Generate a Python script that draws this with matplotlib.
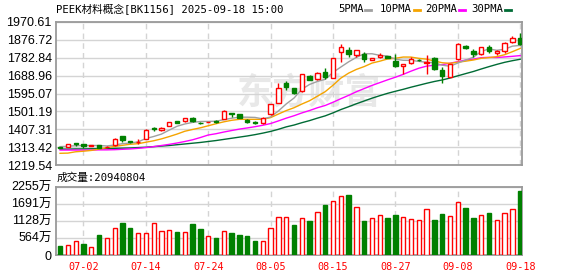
import numpy as np
import pandas as pd
import matplotlib
matplotlib.use("Agg")
import matplotlib.pyplot as plt
from matplotlib.lines import Line2D

# one bar per trading day, 2025-06-27 .. 2025-09-18
dates = pd.bdate_range("2025-06-27", "2025-09-18")

opens = [1314, 1316, 1334, 1328, 1319, 1324, 1315, 1322, 1370, 1345,
         1339, 1357, 1412, 1404, 1425, 1450, 1450, 1468, 1441, 1444,
         1450, 1461, 1491, 1487, 1455, 1444, 1438, 1486, 1545, 1652,
         1622, 1608, 1688, 1670, 1709, 1676, 1812, 1822, 1798, 1800,
         1772, 1786, 1792, 1767, 1739, 1755, 1772, 1755, 1780, 1718,
         1684, 1775, 1845, 1817, 1802, 1840, 1810, 1820, 1867, 1885]
highs = [1316, 1329, 1334, 1329, 1324, 1327, 1318, 1363, 1371, 1348,
         1355, 1407, 1421, 1421, 1447, 1452, 1466, 1470, 1444, 1447,
         1454, 1507, 1492, 1488, 1460, 1450, 1470, 1542, 1648, 1660,
         1625, 1700, 1690, 1706, 1727, 1782, 1855, 1837, 1825, 1815,
         1783, 1810, 1794, 1802, 1752, 1785, 1775, 1797, 1785, 1736,
         1752, 1858, 1851, 1829, 1838, 1848, 1822, 1863, 1897, 1911]
lows = [1309, 1314, 1321, 1311, 1317, 1309, 1313, 1318, 1341, 1336,
        1330, 1354, 1398, 1399, 1422, 1439, 1448, 1448, 1434, 1443,
        1442, 1459, 1473, 1464, 1441, 1435, 1436, 1484, 1543, 1615,
        1594, 1601, 1664, 1667, 1671, 1674, 1760, 1788, 1789, 1762,
        1770, 1783, 1780, 1736, 1697, 1750, 1766, 1700, 1720, 1652,
        1680, 1770, 1827, 1788, 1795, 1808, 1795, 1810, 1859, 1850]
closes = [1311, 1328, 1332, 1317, 1322, 1311, 1316, 1356, 1353, 1339,
          1341, 1404, 1409, 1416, 1444, 1442, 1464, 1451, 1439, 1446,
          1448, 1504, 1489, 1467, 1445, 1442, 1465, 1540, 1626, 1628,
          1597, 1697, 1666, 1704, 1683, 1780, 1837, 1803, 1822, 1777,
          1780, 1796, 1783, 1740, 1748, 1778, 1770, 1760, 1726, 1685,
          1750, 1855, 1836, 1802, 1837, 1816, 1819, 1862, 1885, 1856]

ma5 = [1316, 1318, 1321, 1322, 1322, 1322, 1319.6, 1324.4, 1331.6, 1335,
       1341, 1358.6, 1369.2, 1381.8, 1402.8, 1423, 1435, 1443.4, 1448, 1448.4,
       1449.6, 1457.6, 1465.2, 1470.8, 1470.6, 1469.4, 1461.6, 1471.8, 1503.6, 1540.2,
       1571.2, 1617.6, 1642.8, 1658.4, 1669.4, 1706, 1734, 1761.4, 1785, 1803.8,
       1803.8, 1795.6, 1791.6, 1775.2, 1769.4, 1769, 1763.8, 1759.2, 1756.4, 1743.8,
       1738.2, 1755.2, 1770.4, 1785.6, 1816, 1829.2, 1822, 1827.2, 1843.8, 1847.6]
ma10 = [1281, 1282, 1289, 1292, 1296, 1303, 1311, 1317, 1323, 1328.5,
        1331.5, 1339.1, 1346.8, 1356.7, 1368.9, 1382, 1396.8, 1406.3, 1414.9, 1425.6,
        1436.3, 1446.3, 1454.3, 1459.4, 1459.5, 1459.5, 1459.6, 1468.5, 1487.2, 1505.4,
        1520.3, 1539.6, 1557.3, 1581, 1604.8, 1638.6, 1675.8, 1702.1, 1721.7, 1736.6,
        1754.9, 1764.8, 1776.5, 1780.1, 1786.6, 1786.4, 1779.7, 1775.4, 1765.8, 1756.6,
        1753.6, 1759.5, 1764.8, 1771, 1779.9, 1783.7, 1788.6, 1798.8, 1814.7, 1831.8]
ma20 = [1298, 1298, 1298, 1298, 1298, 1299, 1299, 1300, 1302, 1304,
        1307, 1311, 1316, 1322, 1328, 1335, 1343, 1352, 1364, 1377.1,
        1383.9, 1392.7, 1400.6, 1408.1, 1414.2, 1420.8, 1428.2, 1437.4, 1451.1, 1465.5,
        1478.3, 1493, 1505.8, 1520.2, 1532.2, 1549.1, 1567.7, 1585.3, 1604.5, 1621,
        1637.6, 1652.2, 1666.9, 1680.6, 1695.7, 1712.5, 1727.8, 1738.8, 1743.8, 1746.6,
        1754.3, 1762.2, 1770.7, 1775.6, 1783.3, 1785.1, 1784.2, 1787.1, 1790.3, 1794.2]
ma30 = [1303, 1303, 1304, 1304, 1305, 1305, 1306, 1307, 1308, 1309,
        1311, 1313, 1316, 1319, 1322, 1326, 1330, 1334, 1338, 1343,
        1348, 1354, 1360, 1366, 1372, 1379, 1387, 1396, 1407, 1419.8,
        1429.4, 1441.7, 1452.8, 1465.7, 1477.7, 1493.4, 1510.7, 1525.6, 1541.3, 1555.9,
        1570.5, 1583.6, 1596, 1606.8, 1617, 1628.2, 1638.4, 1648.7, 1658.2, 1666.2,
        1676.3, 1688, 1699.5, 1710.7, 1723.8, 1736.2, 1748, 1758.8, 1767.4, 1775]

# volume in 万 (10k), colour as shown in the volume panel
volumes = [286, 340, 472, 351, 274, 647, 570, 899, 1042, 877,
           735, 735, 1064, 801, 833, 757, 768, 1009, 844, 636,
           548, 801, 713, 647, 614, 450, 472, 899, 1261, 1261,
           976, 1228, 1108, 1426, 1634, 1788, 1953, 1964, 1590, 1108,
           1228, 1327, 1207, 1306, 1261, 1195, 1162, 1524, 1141, 1338,
           1294, 1755, 1536, 1207, 1327, 1371, 1162, 1393, 1524, 2094]
vol_up = [0, 1, 1, 0, 1, 0, 1, 1, 0, 0,
          1, 1, 1, 1, 1, 0, 1, 0, 0, 1,
          0, 1, 0, 0, 0, 0, 1, 1, 1, 1,
          0, 1, 0, 1, 0, 1, 1, 0, 1, 0,
          1, 1, 0, 0, 1, 1, 1, 1, 0, 0,
          1, 1, 0, 0, 1, 0, 1, 1, 1, 0]

price_ticks = [1219.54, 1313.42, 1407.31, 1501.19, 1595.07,
               1688.96, 1782.84, 1876.72, 1970.61]
vol_ticks = [0, 564, 1128, 1691, 2255]

title = "PEEK材料概念[BK1156] 2025-09-18 15:00"
vol_title = "成交量:20940804"

RED = "#ff0000"
GREEN = "#008000"
GRID = "#d4d4d4"
FRAME = "#9a9a9a"
mono = ["DejaVu Sans Mono", "Noto Sans CJK SC"]
sans = ["Liberation Sans", "Noto Sans CJK SC"]

W, H = 578, 276
fig = plt.figure(figsize=(W / 100, H / 100), dpi=100)
ax = fig.add_axes([56 / W, 1 - 165 / H, 466 / W, 143 / H])
axv = fig.add_axes([56 / W, 1 - 255 / H, 466 / W, 68.5 / H])

x = np.arange(len(closes))
lab_idx = list(range(3, len(dates), 8))
lab_txt = [dates[i].strftime("%m-%d") for i in lab_idx]

for a in (ax, axv):
    a.set_xlim(-0.52, len(closes) - 0.77)
    for s in a.spines.values():
        s.set_color(FRAME)
        s.set_linewidth(1.3)
    a.set_xticks(lab_idx)
    a.tick_params(length=0)
    a.grid(True, axis="y", color=GRID, lw=1, zorder=0)
    a.grid(True, axis="x", color=GRID, lw=1, ls=(0, (4, 3)), zorder=0)
    a.set_axisbelow(True)

# price panel
ax.set_ylim(price_ticks[0], price_ticks[-1])
ax.set_yticks(price_ticks)
ax.set_yticklabels(["%.2f" % t for t in price_ticks], family=sans, fontsize=9)
ax.tick_params(axis="y", pad=3)
ax.set_xticklabels([])

# faint site watermark
ax.text(32.0, 1600, "东方财富", family="Noto Sans CJK SC", fontweight="bold",
        fontsize=26, color="#e8e8e8", ha="center", va="center", zorder=0.5)

ax.plot(x, ma30, color="#006b35", lw=1, zorder=2)
ax.plot(x, ma20, color="#ff00ff", lw=1, zorder=2)
ax.plot(x, ma10, color="#f5a400", lw=1, zorder=2)
ax.plot(x, ma5, color="#a0a0a0", lw=1, zorder=2)

for i in x:
    o, h, l, c = opens[i], highs[i], lows[i], closes[i]
    up = c >= o
    col = RED if up else GREEN
    ax.vlines(i, l, h, color=col, lw=1, zorder=3)
    ax.bar(i, max(abs(c - o), 0.8), bottom=min(o, c), width=0.55,
           facecolor="white" if up else GREEN, edgecolor=col, lw=1, zorder=4)

# volume panel
axv.set_ylim(0, vol_ticks[-1])
axv.set_yticks(vol_ticks)
axv.set_yticklabels(["%d万" % t if t else "0" for t in vol_ticks],
                    family=sans, fontsize=9)
axv.tick_params(axis="y", pad=3)
axv.set_xticklabels(lab_txt, family="DejaVu Sans Mono", fontsize=7.3, color=RED)
axv.tick_params(axis="x", pad=5)
for i in x:
    up = vol_up[i]
    axv.bar(i, volumes[i], width=0.55, facecolor="white" if up else GREEN,
            edgecolor=RED if up else GREEN, lw=1, zorder=3)

# header texts
fig.text(56 / W, 1 - 9 / H, title, family=mono, fontsize=7.7, va="center")
fig.text(57 / W, 1 - 178 / H, vol_title, family=mono, fontsize=7.7, va="center")

legend = [("5PMA", "#a0a0a0", 338), ("10PMA", "#f5a400", 380),
          ("20PMA", "#ff00ff", 425), ("30PMA", "#006b35", 471)]
for name, col, px in legend:
    fig.text(px / W, 1 - 9.5 / H, name, family=mono, fontsize=7.7, va="center")
    x0 = px + 6.3 * len(name) + 2
    fig.add_artist(Line2D([x0 / W, (x0 + 6) / W], [1 - 9.5 / H, 1 - 9.5 / H],
                          color=col, lw=2, transform=fig.transFigure))

fig.savefig("out.png", dpi=100)
